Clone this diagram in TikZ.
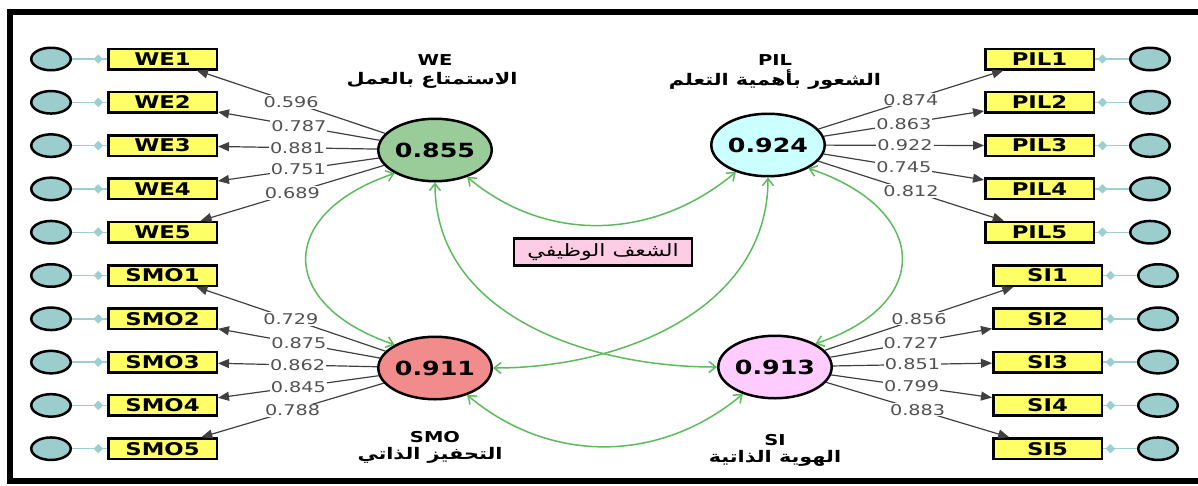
\documentclass[tikz,border=0pt]{standalone}
\usepackage{fontspec}
\setmainfont{DejaVu Sans}[FakeStretch=1.3]
\newfontfamily\arabicfont[Script=Arabic,FakeStretch=1.3]{DejaVu Sans}
\TeXXeTstate=1
\usetikzlibrary{arrows.meta}
\usetikzlibrary{shapes.geometric}

\definecolor{errfill}{HTML}{9CCDCD}
\definecolor{errline}{HTML}{9CCFCF}
\definecolor{boxfill}{HTML}{FFFF66}
\definecolor{wefill}{HTML}{99CC99}
\definecolor{pilfill}{HTML}{CCFFFF}
\definecolor{smofill}{HTML}{F28C8C}
\definecolor{sifill}{HTML}{FFCCFF}
\definecolor{midfill}{HTML}{FFCCE6}
\definecolor{corrgreen}{HTML}{5DBB5D}

\tikzset{
    errcircle/.style={ellipse,draw,line width=2.5pt,fill=errfill,
        minimum width=39.5pt,minimum height=22.5pt,inner sep=0pt},
    indbox/.style={rectangle,draw,line width=2.5pt,fill=boxfill,
        minimum width=108.5pt,minimum height=20.5pt,inner sep=0pt,
        font=\fontsize{17.5}{17.5}\selectfont\bfseries},
    latent/.style={ellipse,draw,line width=2.5pt,
        minimum width=105.5pt,minimum height=62.5pt,inner sep=0pt,
        font=\fontsize{19.5}{19.5}\selectfont\bfseries},
    loading/.style={-{Triangle[length=11pt,width=9pt]},line width=1.2pt,draw=black!75},
    loadlabel/.style={fill=white,inner sep=1pt,text=black!68,
        font=\fontsize{14.8}{14.8}\selectfont},
    errlink/.style={draw=errline,line width=1.4pt},
    errmark/.style={diamond,fill=errline,inner sep=0pt,minimum size=10pt},
    corr/.style={{Straight Barb[length=7pt,width=11pt]}-{Straight Barb[length=7pt,width=11pt]},
        draw=corrgreen,line width=1.5pt},
    ltitle/.style={inner sep=0pt,font=\fontsize{15}{15}\selectfont\bfseries},
    larabic/.style={inner sep=0pt,font=\fontsize{16}{16}\selectfont\bfseries},
    midbox/.style={rectangle,draw,line width=2.5pt,fill=midfill,
        minimum width=178pt,minimum height=27pt,inner sep=0pt,
        font=\fontsize{17}{17}\selectfont}
}

\begin{document}
\begin{tikzpicture}[x=1pt,y=1pt]

    \useasboundingbox (0,0) rectangle (1198,-485);
    \clip (0,0) rectangle (1198,-485);

    % Frame
    \draw[line width=6pt] (10,-12) rectangle (1215,-481);

    % Latent variables
    \node[latent,fill=wefill]  (we)  at (435,-150) {0.855};
    \node[latent,fill=pilfill] (pil) at (768,-145) {0.924};
    \node[latent,fill=smofill] (smo) at (435,-368) {0.911};
    \node[latent,fill=sifill]  (si)  at (775,-367) {0.913};

    % Titles
    \node[ltitle]  (wet)  at (435,-60) {WE};
    \node[larabic] (wea)  at (432,-80) {\arabicfont\beginR الاستمتاع بالعمل\endR};
    \node[ltitle]  (pilt) at (775,-60) {PIL};
    \node[larabic] (pila) at (775,-80) {\arabicfont\beginR الشعور بأهمية التعلم\endR};
    \node[ltitle]  (smot) at (435,-437) {SMO};
    \node[larabic] (smoa) at (430,-455) {\arabicfont\beginR التحفيز الذاتي\endR};
    \node[ltitle]  (sit)  at (775,-440) {SI};
    \node[larabic] (sia)  at (775,-458) {\arabicfont\beginR الهوية الذاتية\endR};

    % Construct label
    \node[midbox] (pas) at (603,-252) {\arabicfont\beginR الشعف الوظيفي\endR};

    % WE indicators
    \foreach \i/\val [evaluate=\i as \y using -59-43.3*(\i-1)] in
            {1/0.596,2/0.787,3/0.881,4/0.751,5/0.689} {
        \node[indbox] (we\i) at (162.5,\y) {WE\i};
        \node[errcircle] (ewe\i) at (51,\y) {};
        \draw[errlink] (ewe\i) -- (we\i) node[errmark,pos=0.75] {};
        \draw[loading] (we) -- (we\i) node[loadlabel,midway] {\val};
    }

    % SMO indicators
    \foreach \i/\val [evaluate=\i as \y using -275.5-43.3*(\i-1)] in
            {1/0.729,2/0.875,3/0.862,4/0.845,5/0.788} {
        \node[indbox] (smo\i) at (162.5,\y) {SMO\i};
        \node[errcircle] (esmo\i) at (51,\y) {};
        \draw[errlink] (esmo\i) -- (smo\i) node[errmark,pos=0.75] {};
        \draw[loading] (smo) -- (smo\i) node[loadlabel,midway] {\val};
    }

    % PIL indicators
    \foreach \i/\val [evaluate=\i as \y using -59-43.3*(\i-1)] in
            {1/0.874,2/0.863,3/0.922,4/0.745,5/0.812} {
        \node[indbox] (pil\i) at (1039.5,\y) {PIL\i};
        \node[errcircle] (epil\i) at (1150,\y) {};
        \draw[errlink] (epil\i) -- (pil\i) node[errmark,pos=0.78] {};
        \draw[loading] (pil) -- (pil\i) node[loadlabel,midway] {\val};
    }

    % SI indicators
    \foreach \i/\val [evaluate=\i as \y using -275.5-43.3*(\i-1)] in
            {1/0.856,2/0.727,3/0.851,4/0.799,5/0.883} {
        \node[indbox] (si\i) at (1047.5,\y) {SI\i};
        \node[errcircle] (esi\i) at (1158,\y) {};
        \draw[errlink] (esi\i) -- (si\i) node[errmark,pos=0.78] {};
        \draw[loading] (si) -- (si\i) node[loadlabel,midway] {\val};
    }

    % Correlations
    \draw[corr] (we) to[out=-40,in=-140] (pil);
    \draw[corr] (smo) to[out=-40,in=-140] (si);
    \draw[corr] (we.-150) .. controls +(-118,-40) and +(-118,40) .. (smo.150);
    \draw[corr] (pil.-30) .. controls +(120,-40) and +(120,40) .. (si.30);
    \draw[corr] (we) to[out=-90,in=180] (si);
    \draw[corr] (pil) to[out=-90,in=0] (smo);

\end{tikzpicture}
\end{document}
